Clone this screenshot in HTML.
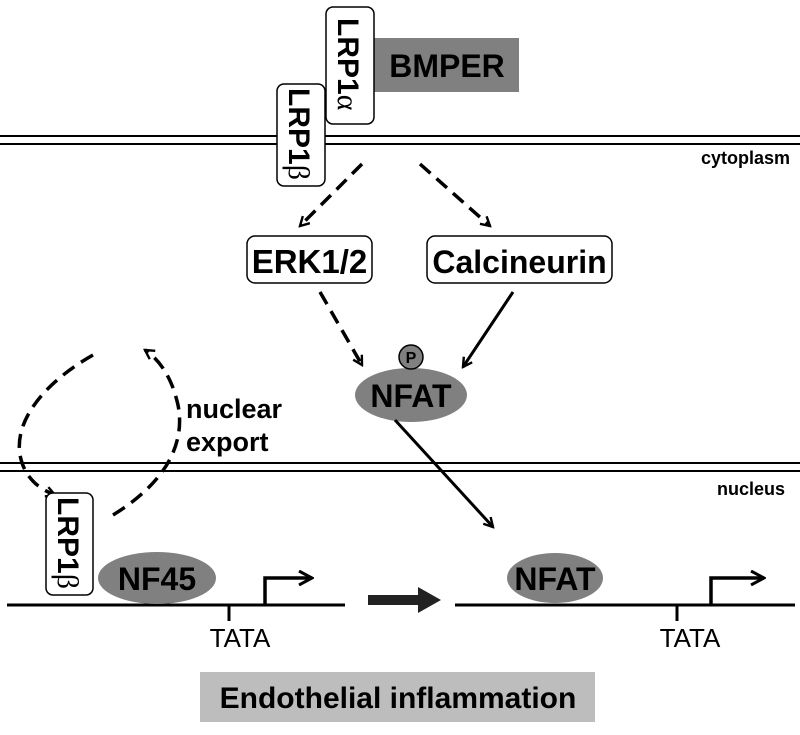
<!DOCTYPE html>
<html><head><style>body{margin:0;background:#fff}svg{display:block}text{font-family:"Liberation Sans",Arial,sans-serif}</style></head>
<body>
<svg width="800" height="735" viewBox="0 0 800 735" xmlns="http://www.w3.org/2000/svg">
<defs>
<marker id="a" viewBox="0 0 12 12" refX="10" refY="6" markerWidth="12" markerHeight="12" markerUnits="userSpaceOnUse" orient="auto"><path d="M1,1 L10,6 L1,11" fill="none" stroke="#000" stroke-width="2.4"/></marker>
<marker id="b" viewBox="0 0 16 16" refX="14" refY="8" markerWidth="16" markerHeight="16" markerUnits="userSpaceOnUse" orient="auto"><path d="M1,1 L14,8 L1,15" fill="none" stroke="#000" stroke-width="3"/></marker>
</defs>
<g stroke="#000" stroke-width="2">
<line x1="0" y1="136" x2="800" y2="136"/><line x1="0" y1="144" x2="800" y2="144"/>
<line x1="0" y1="463" x2="800" y2="463"/><line x1="0" y1="471" x2="800" y2="471"/>
</g>
<text x="790" y="164" font-size="18" font-weight="bold" text-anchor="end">cytoplasm</text>
<text x="785" y="495" font-size="18" font-weight="bold" text-anchor="end">nucleus</text>

<rect x="373" y="38" width="146" height="54" fill="#808080"/>
<text x="447" y="77" font-size="32" font-weight="bold" text-anchor="middle">BMPER</text>
<rect x="326" y="7" width="48" height="117" rx="7" fill="#fff" stroke="#000" stroke-width="1.5"/>
<text transform="translate(338,18) rotate(90)" font-size="30" font-weight="bold">LRP1<tspan font-weight="normal" font-family="Liberation Serif">α</tspan></text>
<rect x="277" y="84" width="48" height="102" rx="7" fill="#fff" stroke="#000" stroke-width="1.5"/>
<text transform="translate(289,88) rotate(90)" font-size="30" font-weight="bold">LRP1<tspan font-weight="normal" font-family="Liberation Serif">β</tspan></text>

<g stroke="#000" stroke-width="3.5" fill="none" stroke-dasharray="14,8">
<line x1="362" y1="164" x2="300" y2="226" marker-end="url(#a)"/>
<line x1="420" y1="164" x2="490" y2="226" marker-end="url(#a)"/>
<line x1="320" y1="292" x2="362" y2="365" marker-end="url(#a)"/>
<path d="M93,355 C40,385 5,430 25,470 C32,483 42,490 55,495" marker-end="url(#a)"/>
<path d="M113,515 C170,480 185,440 178,405 C172,378 160,360 145,350" marker-end="url(#a)"/>
</g>
<rect x="247" y="236" width="125" height="47" rx="8" fill="#fff" stroke="#000" stroke-width="1.5"/>
<text x="309.5" y="273" font-size="33" font-weight="bold" text-anchor="middle">ERK1/2</text>
<rect x="427" y="236" width="185" height="47" rx="8" fill="#fff" stroke="#000" stroke-width="1.5"/>
<text x="519.5" y="273" font-size="32" font-weight="bold" text-anchor="middle">Calcineurin</text>
<line x1="513" y1="292" x2="463" y2="367" stroke="#000" stroke-width="3" marker-end="url(#a)"/>
<ellipse cx="411" cy="395" rx="56" ry="27" fill="#808080"/>
<circle cx="411" cy="357" r="12" fill="#808080" stroke="#000" stroke-width="1.5"/>
<text x="411" y="363" font-size="16" font-weight="bold" text-anchor="middle">P</text>
<text x="411" y="407" font-size="32" font-weight="bold" text-anchor="middle">NFAT</text>
<line x1="395" y1="420" x2="493" y2="527" stroke="#000" stroke-width="3" marker-end="url(#a)"/>
<text x="186" y="418" font-size="27" font-weight="bold">nuclear</text>
<text x="186" y="451" font-size="27" font-weight="bold">export</text>

<g stroke="#000" stroke-width="3" fill="none">
<line x1="7" y1="605" x2="345" y2="605"/><line x1="455" y1="605" x2="795" y2="605"/>
<line x1="229" y1="605" x2="229" y2="621"/><line x1="677" y1="605" x2="677" y2="621"/>
<path d="M265,605 V578 H312" marker-end="url(#b)" stroke-width="3.5"/>
<path d="M711,605 V578 H764" marker-end="url(#b)" stroke-width="3.5"/>
</g>
<text x="240" y="647" font-size="26" text-anchor="middle">TATA</text>
<text x="690" y="647" font-size="26" text-anchor="middle">TATA</text>
<rect x="46" y="493" width="47" height="102" rx="7" fill="#fff" stroke="#000" stroke-width="1.5"/>
<text transform="translate(58,497) rotate(90)" font-size="30" font-weight="bold">LRP1<tspan font-weight="normal" font-family="Liberation Serif">β</tspan></text>
<ellipse cx="157" cy="578" rx="59" ry="26" fill="#808080"/>
<text x="157" y="590" font-size="32" font-weight="bold" text-anchor="middle">NF45</text>
<ellipse cx="555" cy="578" rx="48" ry="25" fill="#808080"/>
<text x="555" y="590" font-size="32" font-weight="bold" text-anchor="middle">NFAT</text>
<path d="M368,595 H418 V587 L441,600 L418,613 V605 H368 Z" fill="#222"/>
<rect x="200" y="672" width="395" height="50" fill="#bdbdbd"/>
<text x="398" y="708" font-size="30" font-weight="bold" text-anchor="middle">Endothelial inflammation</text>
</svg>
</body></html>
